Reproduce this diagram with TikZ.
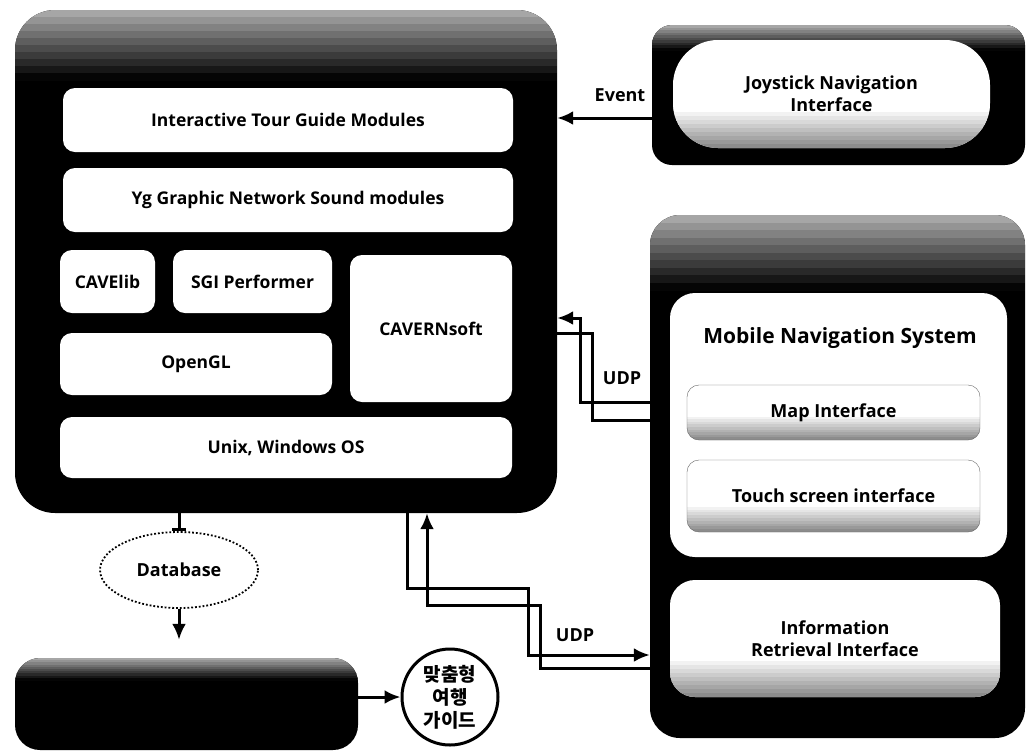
\documentclass[tikz,border=0pt]{standalone}
\usepackage{fontspec}
\setmainfont{Open Sans}
\newfontfamily\kofont{Noto Sans CJK KR}
\usetikzlibrary{positioning, shapes.geometric, arrows.meta}

\begin{document}
\begin{tikzpicture}[x=1pt, y=-1pt,
  % grey band on top of a black panel, in ten strips
  panel/.style={fill=black, rounded corners=30pt, inner sep=0pt,
    path picture={\foreach \i in {0,...,9}{\pgfmathtruncatemacro\g{35+7*\i}
      \fill[sharp corners, black!\g] ([yshift=-\i*#1/10]path picture bounding box.north west)
        rectangle ([yshift=-\i*#1/10-#1/10-0.5pt]path picture bounding box.north east);}}},
  mod/.style={fill=white, rounded corners=12pt, inner sep=0pt, align=center,
    font=\bfseries\fontsize{17.5}{21}\selectfont},
  % white box going grey at its foot
  iface/.style={mod, draw=black!60, font=\bfseries\fontsize{18}{22}\selectfont,
    path picture={\foreach \i in {0,...,9}{\pgfmathtruncatemacro\g{5*\i}
      \fill[sharp corners, black!\g] ([yshift=#1-\i*#1/10]path picture bounding box.south west)
        rectangle ([yshift=#1-\i*#1/10-#1/10-0.5pt]path picture bounding box.south east);}}},
  iface/.default=24pt,
  lbl/.style={font=\bfseries\fontsize{18}{21}\selectfont},
  wire/.style={line width=3pt},
  conn/.style={wire, -{Latex[length=16pt,width=14pt]}}]
\useasboundingbox (0,0) rectangle (1027,753);

% tour guide system
\node[panel=70pt, rounded corners=40pt, minimum width=542pt, minimum height=503pt] (main) at (286,261.5) {};
\node[mod, minimum width=450pt, minimum height=64pt] (itg) at (288,120) {Interactive Tour Guide Modules};
\node[mod, minimum width=450pt, minimum height=64pt] (yg) at (288,200) {Yg Graphic Network Sound modules};
\node[mod, minimum width=95pt, minimum height=63pt] (cave) at (107.5,281.5) {CAVElib};
\node[mod, minimum width=159pt, minimum height=63pt] (sgi) at (252.5,281.5) {SGI Performer};
\node[mod, minimum width=162pt, minimum height=147pt] (cavern) at (431,328.5) {CAVERNsoft};
\node[mod, minimum width=272pt, minimum height=62pt] (ogl) at (196,364) {OpenGL};
\node[mod, minimum width=452pt, minimum height=61pt] (unix) at (286,447.5) {Unix, Windows OS};

% joystick
\node[panel=25pt, rounded corners=20pt, minimum width=373pt, minimum height=140pt] (joy) at (838.5,95) {};
\node[iface=40pt, draw=none, rounded corners=45pt, minimum width=317pt, minimum height=108pt] (joyif) at (831.5,94) {Joystick Navigation\\Interface};

% mobile side
\node[panel=75pt, minimum width=375pt, minimum height=523pt] (mob) at (837.5,476.5) {};
\node[mod, rounded corners=25pt, minimum width=337pt, minimum height=264pt] (mns) at (838.5,425) {};
\node[font=\bfseries\fontsize{21}{25}\selectfont] (mnst) at (840,338) {Mobile Navigation System};
\node[iface=26pt, minimum width=293pt, minimum height=55pt] (map) at (833.5,412.5) {Map Interface};
\node[iface=28pt, minimum width=293pt, minimum height=72pt] (touch) at (833.5,496) {Touch screen interface};
\node[iface=40pt, draw=none, rounded corners=25pt, minimum width=330pt, minimum height=117pt] (info) at (835,638.5) {Information\\Retrieval Interface};

% bottom
\node[ellipse, draw, dotted, line width=1.8pt, fill=white, minimum width=158pt, minimum height=76pt, lbl] (db) at (179,570) {Database};
\node[panel=22pt, rounded corners=25pt, minimum width=343pt, minimum height=92pt] (dbox) at (186.5,704) {};
\node[circle, draw, fill=white, line width=3pt, minimum size=96pt, inner sep=0pt, align=center,
  font=\kofont\bfseries\fontsize{19}{23}\selectfont] (guide) at (450,697) {맞춤형\\여행\\가이드};

\draw[conn] (joy.west |- 0,118) -- (main.east |- 0,118);
\node[lbl] (evt) at (620,95) {Event};
\draw[conn] (mob.west |- 0,402) -- (580,402) -- (580,318) -- (main.east |- 0,318);
\draw[wire] (main.east |- 0,333) -- (592,333) -- (592,420) -- (mob.west |- 0,420);
\node[lbl] (udpa) at (622,378) {UDP};
\draw[conn] (mob.west |- 0,668) -- (540,668) -- (540,605) -- (427,605) -- (main.south -| 427,0);
\draw[conn] (main.south -| 407,0) -- (407,588) -- (528,588) -- (528,655) -- (mob.west |- 0,655);
\node[lbl] (udpb) at (575,635) {UDP};
\draw[wire, -{Bar[width=14pt]}] (main.south -| db.north) -- (db.north);
\draw[conn, shorten >=18pt] (db.south) -- (dbox.north -| db.south);
\draw[conn] (dbox.east |- guide.west) -- (guide.west);
\end{tikzpicture}
\end{document}
